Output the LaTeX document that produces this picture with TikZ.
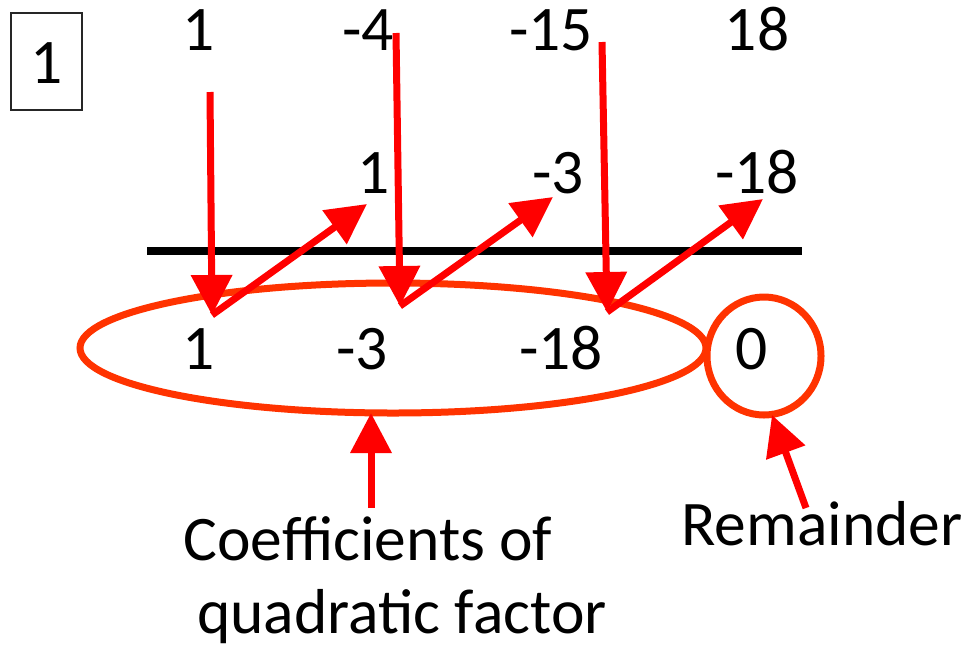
\documentclass[tikz,border=0pt]{standalone}
\usepackage{fontspec}
\setmainfont{Carlito}
\usetikzlibrary{arrows.meta}
\definecolor{ovalred}{HTML}{FF3300}
\begin{document}
\begin{tikzpicture}[x=1pt,y=-1pt,
  num/.style={anchor=base,inner sep=0pt,font=\fontsize{63.5}{70}\selectfont},
  redarrow/.style={draw=red,line width=7pt,-{Triangle[length=40pt,width=40pt]}},
  oval/.style={draw=ovalred,line width=7pt}]
\useasboundingbox (0,0) rectangle (965,649);
% boxed number
\draw[line width=1.5pt,black!85] (11,13) rectangle (82,110);
\node[num] (box) at (47,83) {1};
% top row
\node[num] (t1) at (199,50) {1};
\node[num] (t2) at (368,50) {-4};
\node[num] (t3) at (551,50) {-15};
\node[num] (t4) at (757,50) {18};
% middle row
\node[num] (m1) at (374,193) {1};
\node[num] (m2) at (558,193) {-3};
\node[num] (m3) at (757,193) {-18};
% line
\draw[line width=8pt] (147,251) -- (802,251);
% bottom row
\node[num] (b1) at (199,369) {1};
\node[num] (b2) at (362,369) {-3};
\node[num] (b3) at (561,369) {-18};
\node[num] (b4) at (752,369) {0};
% ovals
\draw[oval] (393,348) ellipse [x radius=313, y radius=65];
\draw[oval] (764,356) ellipse [x radius=57, y radius=59];
% coordinates of arrows
\coordinate (s1) at (210,92);
\coordinate (e1) at (212,315);
\coordinate (u1) at (367,204);
\coordinate (s2) at (396,33);
\coordinate (e2) at (400,306);
\coordinate (u2) at (553,197);
\coordinate (s3) at (602,42);
\coordinate (e3) at (607,312);
\coordinate (u3) at (763,199);
\draw[redarrow] (s1) -- (e1);
\draw[redarrow] (e1) -- (u1);
\draw[redarrow] (s2) -- (e2);
\draw[redarrow] (e2) -- (u2);
\draw[redarrow] (s3) -- (e3);
\draw[redarrow] (e3) -- (u3);
% labels
\node[num] (c1) at (368,560) {Coefficients of};
\node[num] (c2) at (402,633) {quadratic factor};
\node[num] (rem) at (822,545) {Remainder};
\coordinate (qa) at (371,508);
\coordinate (qt) at (371,413);
\coordinate (ra) at (806,508);
\coordinate (rt) at (772,415);
\draw[redarrow] (qa) -- (qt);
\draw[redarrow] (ra) -- (rt);
\end{tikzpicture}
\end{document}
